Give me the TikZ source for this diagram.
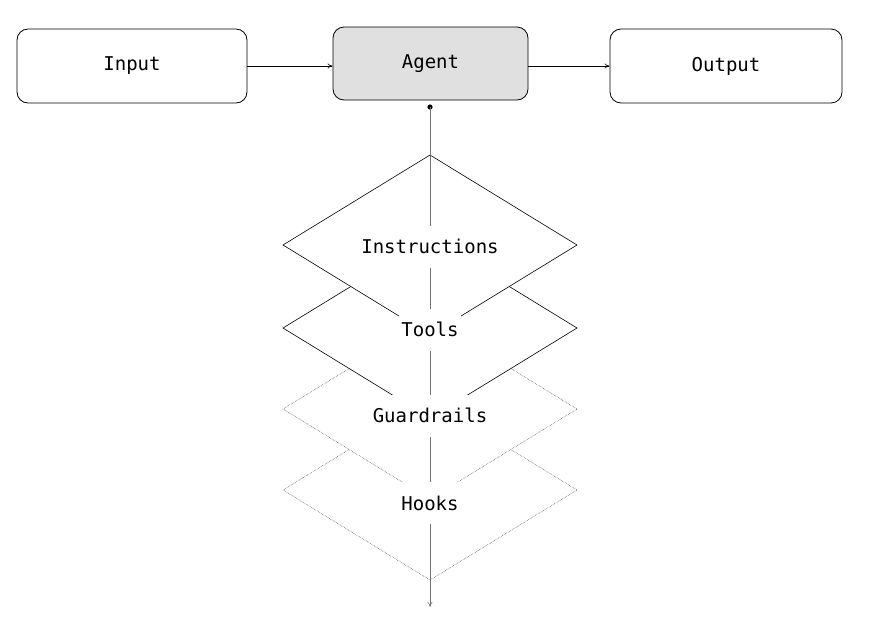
\documentclass[tikz,border=0pt]{standalone}
\usepackage{fontspec}
\setmainfont{DejaVu Sans Mono}
\usetikzlibrary{arrows.meta}
\begin{document}
\begin{tikzpicture}[x=1pt,y=-1pt,
  box/.style={draw,rounded corners=11pt,line width=0.8pt,font=\fontsize{19}{22}\selectfont},
  dia/.style={draw,fill=white,line width=0.6pt},
  dotdia/.style={dia,densely dotted,draw=black!70,line width=0.5pt},
  lbl/.style={fill=white,inner xsep=2pt,minimum height=42pt,font=\fontsize{19}{22}\selectfont},
  arr/.style={-{To[length=5pt,width=5pt]},line width=0.6pt}]
\useasboundingbox (0,0) rectangle (870,633);
\node[box,minimum width=230pt,minimum height=74pt] (in) at (132,66) {Input};
\node[box,fill=black!12,minimum width=195pt,minimum height=73pt] (ag) at (430.5,63.5) {Agent};
\node[box,minimum width=232pt,minimum height=74pt] (out) at (726,66) {Output};
\draw[arr] (in.east) -- (ag.west|-in.east);
\draw[arr] (ag.east|-out.west) -- (out.west);
% diamonds bottom to top
\foreach \c/\s in {490/dotdia,409/dotdia,328/dia,245/dia}{
  \draw[\s] (430,\c-90) -- (577,\c) -- (430,\c+90) -- (283,\c) -- cycle;
}
\coordinate (top) at (430,107);
\coordinate (bot) at (430,607);
\fill (top) circle (2.6pt);
\draw[arr,draw=black!55] (top) -- (bot);
\node[lbl] (i) at (430,246.5) {Instructions};
\node[lbl] (t) at (430,329.5) {Tools};
\node[lbl] (g) at (430,415.5) {Guardrails};
\node[lbl] (h) at (430,503) {Hooks};
\end{tikzpicture}
\end{document}
